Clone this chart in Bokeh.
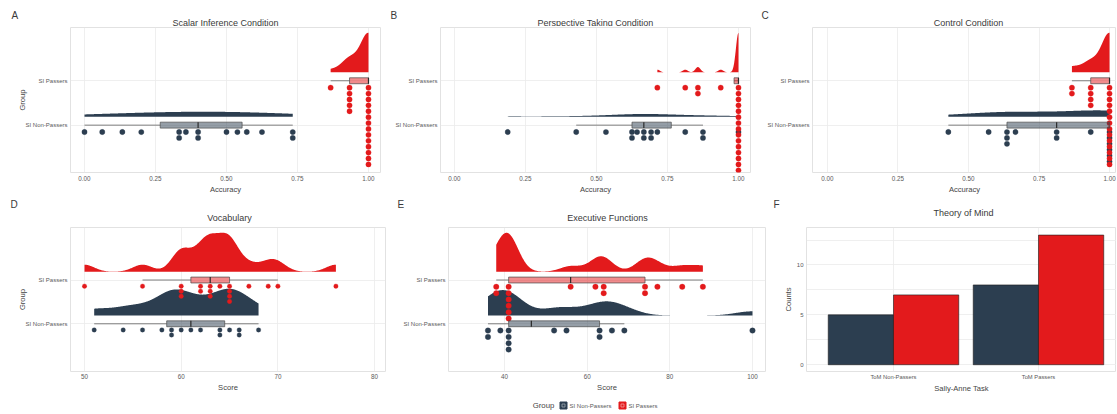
import numpy as np
from bokeh.plotting import figure
from bokeh.layouts import row, column
from bokeh.models import FixedTicker, Range1d, NumeralTickFormatter
from bokeh.core.properties import value
from bokeh.embed import file_html
from bokeh.resources import INLINE

FONT = "Liberation Sans"
DARK = "#2C3E50"
RED = "#E31A1C"
TXT = "#3A3A3A"
TICK = "#5A5A5A"
GRID = "#EBEBEB"

# ---------------- data ----------------
group_names = ["SI Non-Passers", "SI Passers"]
group_pos = [1, 2]

# A: Scalar Inference Condition (accuracy)
si_non = [0.0, 0.0625, 0.1333, 0.2, 0.3333, 0.3333, 0.3571, 0.4, 0.4, 0.5,
          0.5385, 0.5714, 0.625, 0.7333, 0.7333]
si_pass = [0.8667, 0.9333, 0.9333, 0.9333, 0.9333, 0.9333,
           1.0, 1.0, 1.0, 1.0, 1.0, 1.0, 1.0, 1.0, 1.0, 1.0, 1.0, 1.0, 1.0, 1.0]

# B: Perspective Taking Condition
pt_non = [0.1875, 0.4286, 0.5333, 0.625, 0.625, 0.6429, 0.6667, 0.6667, 0.6923,
          0.6923, 0.7143, 0.8125, 0.875, 0.875, 1.0]
pt_pass = [0.7143, 0.8125, 0.8571, 0.8571, 0.9375,
           1.0, 1.0, 1.0, 1.0, 1.0, 1.0, 1.0, 1.0, 1.0, 1.0, 1.0, 1.0, 1.0, 1.0, 1.0]

# C: Control Condition
ctrl_non = [0.4286, 0.5714, 0.6364, 0.6364, 0.6364, 0.6667, 0.8125, 0.8125, 0.9333,
            1.0, 1.0, 1.0, 1.0, 1.0, 1.0]
ctrl_pass = [0.8667, 0.8667, 0.9333, 0.9333, 0.9333, 0.9333,
             1.0, 1.0, 1.0, 1.0, 1.0, 1.0, 1.0, 1.0, 1.0, 1.0, 1.0, 1.0, 1.0, 1.0]

# D: Vocabulary (score)
voc_non = [51, 54, 56, 58, 59, 59, 60, 61, 62, 64, 64, 65, 66, 66, 68]
voc_pass = [50, 56, 60, 60, 60, 62, 62, 63, 63, 63, 64, 65, 65, 65, 65, 67, 69, 70, 76]

# E: Executive Functions (score)
ef_non = [36, 36, 39, 41, 41, 41, 41, 52, 55, 63, 63, 66, 69, 100]
ef_pass = [38, 38, 41, 41, 41, 41, 41, 41, 56, 62, 64, 64, 74, 74, 77, 83, 88]

# F: Theory of Mind counts
tom_cats = ["ToM Non-Passers", "ToM Passers"]
tom_si_non = [5, 8]
tom_si_pass = [7, 13]

acc_ticks = [0.0, 0.25, 0.5, 0.75, 1.0]
voc_ticks = [50, 60, 70, 80]
ef_ticks = [40, 60, 80, 100]
count_ticks = [0, 5, 10]
count_minor = [2.5, 7.5, 12.5]

# kernel bandwidths (non-passers, passers) per panel
bw_A = (0.2, 0.028)
bw_B = (0.1, 0.009)
bw_C = (0.13, 0.028)
bw_D = (1.5, 1.0)
bw_E = (4.0, 2.5)


# ---------------- helpers ----------------
def kde(vals, bw, n=512):
    v = np.asarray(vals, float)
    xs = np.linspace(v.min(), v.max(), n)
    d = np.exp(-0.5 * ((xs[:, None] - v[None, :]) / bw) ** 2).sum(1) / (len(v) * bw * np.sqrt(2 * np.pi))
    return xs, d


def box_stats(vals):
    v = np.asarray(vals, float)
    q1, med, q3 = np.percentile(v, [25, 50, 75])
    iqr = q3 - q1
    lo = v[v >= q1 - 1.5 * iqr].min()
    hi = v[v <= q3 + 1.5 * iqr].max()
    return lo, q1, med, q3, hi


def stack(vals, g, off, step):
    xs, ys, cnt = [], [], {}
    for v in vals:
        k = cnt.get(v, 0)
        cnt[v] = k + 1
        xs.append(v)
        ys.append(g - off - k * step)
    return xs, ys


def make_fig(xr, yr, width, height, bl, br, bt, bb):
    p = figure(width=width, height=height,
               x_range=Range1d(*xr), y_range=Range1d(*yr),
               output_backend="svg", toolbar_location=None,
               min_border_left=bl, min_border_right=br,
               min_border_top=bt, min_border_bottom=bb)
    p.background_fill_color = "white"
    p.border_fill_color = "white"
    p.outline_line_color = "#E2E2E2"
    p.outline_line_width = 1
    p.grid.grid_line_color = GRID
    p.grid.grid_line_width = 0.8
    for ax in p.axis:
        ax.axis_line_color = None
        ax.major_tick_line_color = None
        ax.minor_tick_line_color = None
        ax.major_tick_in = 0
        ax.major_tick_out = 0
        ax.minor_tick_in = 0
        ax.minor_tick_out = 0
        ax.major_label_text_font = FONT
        ax.major_label_text_font_size = "6.3px"
        ax.major_label_text_color = TICK
        ax.axis_label_text_font = FONT
        ax.axis_label_text_font_size = "7.6px"
        ax.axis_label_text_font_style = "normal"
        ax.axis_label_text_color = "#454545"
        ax.axis_label_standoff = 1
    p.xaxis.major_label_standoff = 3
    p.yaxis.major_label_standoff = 3
    return p


def strip(width, height, y_top, y_bottom):
    s = figure(width=width, height=height, x_range=Range1d(0, width),
               y_range=Range1d(y_bottom, y_top), output_backend="svg",
               toolbar_location=None, min_border=0,
               x_axis_location=None, y_axis_location=None)
    s.grid.visible = False
    s.outline_line_color = None
    s.background_fill_color = "white"
    s.border_fill_color = "white"
    return s


def strip_text(s, xs, ys, texts, size, align, color=TXT):
    s.text(x=xs, y=ys, text=texts, text_font=value(FONT), text_font_size=size,
           text_align=align, text_baseline="middle", text_color=color)


def raincloud(p, datasets, bws, dot_off, dot_step, dot_size, nudge=0.19, vmax=0.89, bh=0.067):
    colors = [DARK, RED]
    kdes = [kde(d, b) for d, b in zip(datasets, bws)]
    dmax = max(k[1].max() for k in kdes)
    for g, (xs, d), c in zip(group_pos, kdes, colors):
        p.varea(x=xs, y1=np.full_like(xs, g + nudge), y2=g + nudge + vmax * d / dmax,
                fill_color=c, fill_alpha=1.0)
    for g, vals, c in zip(group_pos, datasets, colors):
        x, y = stack(vals, g, dot_off, dot_step)
        p.scatter(x, y, size=dot_size, fill_color=c, line_color=c, line_width=0.3)
    for g, vals, c in zip(group_pos, datasets, colors):
        lo, q1, med, q3, hi = box_stats(vals)
        p.segment(x0=[lo, q3], y0=[g, g], x1=[q1, hi], y1=[g, g],
                  line_color="#707070", line_width=0.9)
        p.quad(left=[q1], right=[q3], bottom=[g - bh], top=[g + bh],
               fill_color=c, fill_alpha=0.5, line_color="#4A4A4A", line_width=0.7)
        p.segment(x0=[med], y0=[g - bh], x1=[med], y1=[g + bh],
                  line_color="#2A2A2A", line_width=1.2)


def group_axis(p, with_title):
    p.yaxis.ticker = FixedTicker(ticks=group_pos)
    p.yaxis.major_label_overrides = {g: n for g, n in zip(group_pos, group_names)}
    p.yaxis.major_label_text_font_size = "6px"
    p.yaxis.axis_label = "Group" if with_title else None
    p.yaxis.axis_label_standoff = -5


W = 1116

# ---------------- strip with titles of the top row ----------------
s1 = strip(W, 26, 0, 26)
strip_text(s1, [225, 595, 968], [22, 22, 22],
           ["Scalar Inference Condition", "Perspective Taking Condition", "Control Condition"],
           "9px", "center")
strip_text(s1, [11, 390, 761], [15, 15, 15], ["A", "B", "C"], "10px", "left")

# ---------------- top row ----------------
top_yr = (-0.067, 3.2)
top_panels = [
    ((-0.0493, 1.0423), 388, 70, 8, si_non, si_pass, bw_A, True),
    ((-0.0493, 1.0423), 372, 52, 10, pt_non, pt_pass, bw_B, False),
    ((-0.053, 1.0247), 356, 52, 0, ctrl_non, ctrl_pass, bw_C, False),
]
top_figs = []
for xr, w, bl, br, dn, dp, bws, yt in top_panels:
    p = make_fig(xr, top_yr, w, 170, bl, br, 1, 22)
    p.xaxis.ticker = FixedTicker(ticks=acc_ticks)
    p.xaxis.formatter = NumeralTickFormatter(format="0.00")
    p.xaxis.axis_label = "Accuracy"
    group_axis(p, yt)
    raincloud(p, [dn, dp], bws, dot_off=0.155, dot_step=0.133, dot_size=5.3)
    top_figs.append(p)

# ---------------- strip with titles of the bottom row ----------------
s2 = strip(W, 30, 196, 226)
strip_text(s2, [229, 607], [217, 217], ["Vocabulary", "Executive Functions"], "9px", "center")
strip_text(s2, [963], [212], ["Theory of Mind"], "9px", "center")
strip_text(s2, [10, 397, 773], [204, 204, 204], ["D", "E", "F"], "10px", "left")

# ---------------- bottom row ----------------
bot_yr = (-0.09, 3.2)
pD = make_fig((48.55, 81.13), bot_yr, 395, 169, 70, 10, 1, 20)
pD.xaxis.ticker = FixedTicker(ticks=voc_ticks)
pD.xaxis.axis_label = "Score"
pD.xaxis.major_label_standoff = 2
group_axis(pD, True)
raincloud(pD, [voc_non, voc_pass], bw_D, dot_off=0.14, dot_step=0.116, dot_size=4.5)

pE = make_fig((26.45, 103.15), bot_yr, 380, 169, 53, 10, 1, 20)
pE.xaxis.ticker = FixedTicker(ticks=ef_ticks)
pE.xaxis.axis_label = "Score"
pE.xaxis.major_label_standoff = 2
group_axis(pE, False)
raincloud(pE, [ef_non, ef_pass], bw_E, dot_off=0.155, dot_step=0.145, dot_size=5.5)

pF = make_fig((0.4, 2.538), (-0.68, 13.76), 341, 169, 31, 0, 1, 20)
cat_x = np.arange(1, len(tom_cats) + 1)
pF.vbar(x=cat_x - 0.225, top=tom_si_non, width=0.45, fill_color=DARK,
        line_color="#1A1A1A", line_width=0.6)
pF.vbar(x=cat_x + 0.225, top=tom_si_pass, width=0.45, fill_color=RED,
        line_color="#1A1A1A", line_width=0.6)
pF.xaxis.ticker = FixedTicker(ticks=list(cat_x))
pF.xaxis.major_label_overrides = {int(i): c for i, c in zip(cat_x, tom_cats)}
pF.xaxis.major_label_text_font_size = "5.8px"
pF.xaxis.major_label_standoff = 2
pF.xaxis.axis_label = "Sally-Anne Task"
pF.yaxis.ticker = FixedTicker(ticks=count_ticks, minor_ticks=count_minor)
pF.yaxis.axis_label = "Counts"
pF.yaxis.major_label_text_font_size = "6px"
pF.ygrid.minor_grid_line_color = GRID
pF.ygrid.minor_grid_line_width = 0.8

# ---------------- legend strip ----------------
pL = strip(W, 18, 395, 413)
strip_text(pL, [543], [405], ["Group"], "7.8px", "center", color="#454545")
key_x = [563, 622]
pL.scatter(x=key_x, y=[405, 405], marker="square", size=7,
           fill_color=[DARK, RED], line_color=[DARK, RED])
pL.scatter(x=key_x, y=[405, 405], marker="square", size=3,
           fill_alpha=0, line_color=["#A0A8B0", "#F5A0A0"], line_width=0.8)
strip_text(pL, [569, 628], [405, 405], group_names, "6px", "left", color=TICK)

layout = column(s1, row(*top_figs), s2, row(pD, pE, pF), pL)
open("out.html", "w").write(file_html(layout, INLINE))
